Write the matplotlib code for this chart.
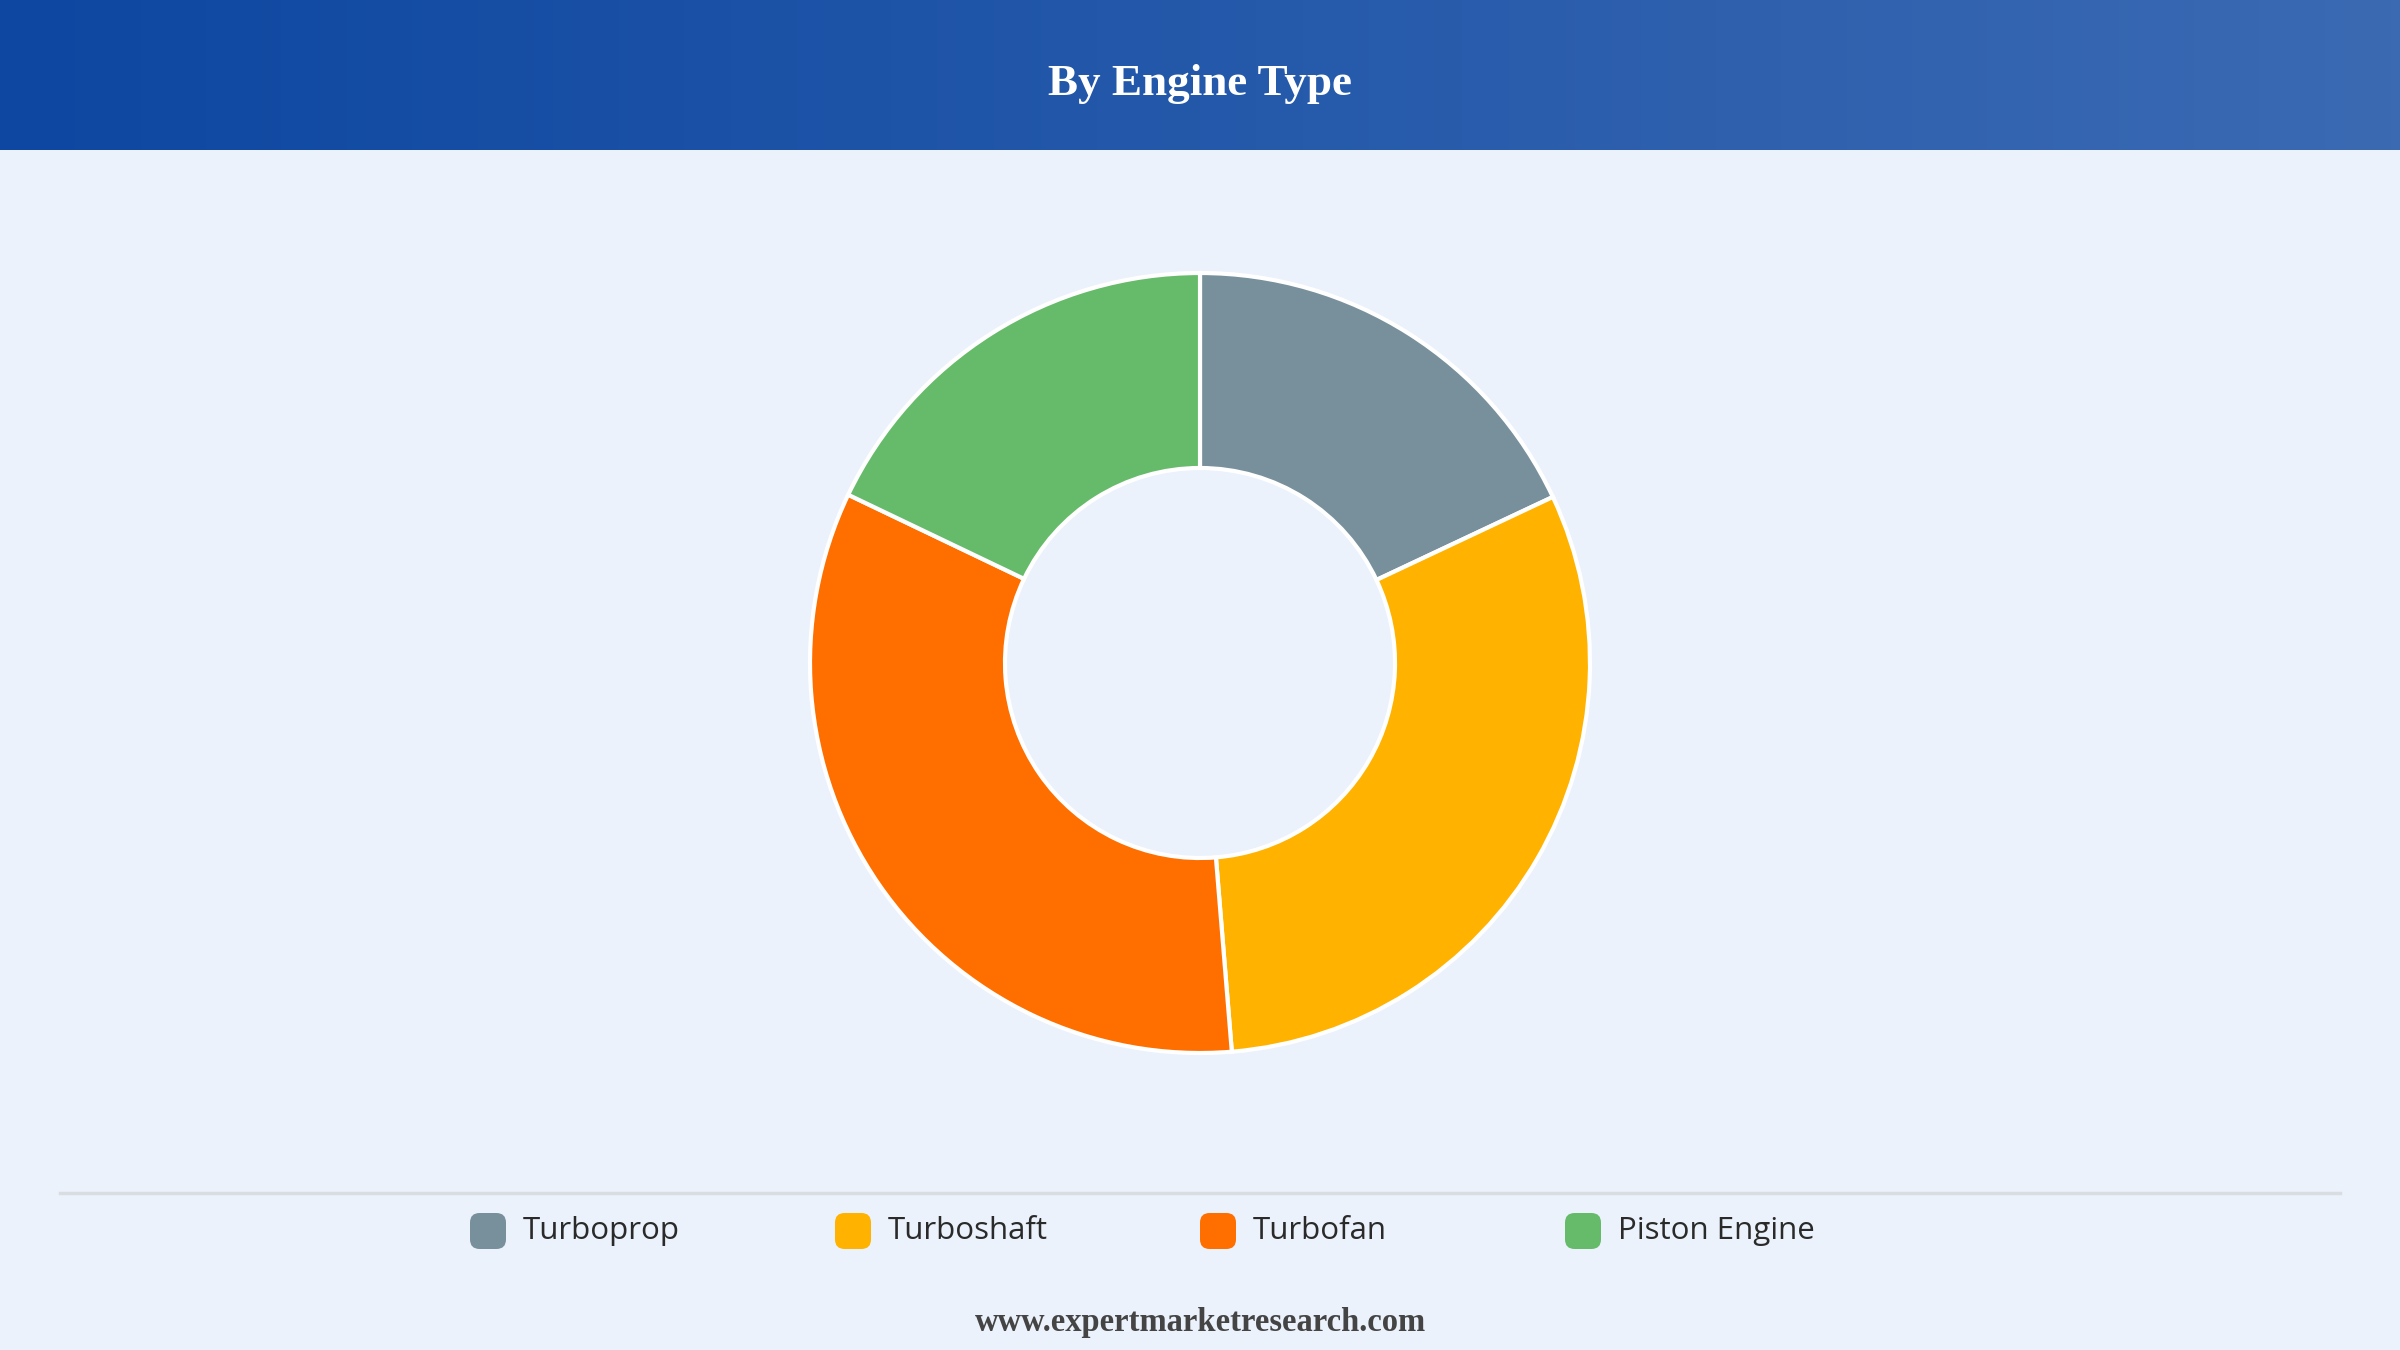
import numpy as np
import matplotlib
matplotlib.use("Agg")
import matplotlib.pyplot as plt
from matplotlib.patches import FancyBboxPatch

# data
labels = ["Turboprop", "Turboshaft", "Turbofan", "Piston Engine"]
shares = [18.0, 30.7, 33.4, 17.9]
colors = ["#78909C", "#FFB300", "#FF6F00", "#66BB6A"]

title = "By Engine Type"
source = "www.expertmarketresearch.com"

W, H = 2400, 1350
bg = "#EBF2FB"

fig = plt.figure(figsize=(24, 13.5), dpi=100)
fig.patch.set_facecolor(bg)

# header band with horizontal gradient
hdr = fig.add_axes([0, 1 - 150 / H, 1, 150 / H])
grad = np.linspace(0, 1, 256).reshape(1, -1)
cmap = matplotlib.colors.LinearSegmentedColormap.from_list("hdr", ["#0D47A1", "#3B6AB3"])
hdr.imshow(grad, aspect="auto", cmap=cmap, extent=[0, 1, 0, 1])
hdr.set_axis_off()
hdr.text(0.5, 0.44, title, ha="center", va="center", color="white",
         fontsize=32.5, fontweight="bold", family="Liberation Serif")

# donut
R = 390
cx, cy = 1200, 663
ax = fig.add_axes([(cx - R) / W, (H - cy - R) / H, 2 * R / W, 2 * R / H])
ax.set_facecolor("none")
ax.pie(shares, colors=colors, startangle=90, counterclock=False, radius=1,
       wedgeprops=dict(width=0.5, edgecolor="white", linewidth=3))
ax.set_xlim(-1.0, 1.0)
ax.set_ylim(-1.0, 1.0)
ax.set_aspect("equal")
ax.set_axis_off()

# separator line
fig.add_artist(plt.Line2D([60 / W, 2340 / W], [1 - 1193 / H, 1 - 1193 / H],
                          color="#D9DDE2", linewidth=2.5))

# legend
leg_x = [470, 835, 1200, 1565]
ly = 1 - 1231 / H
sq = 36
for x, lab, c in zip(leg_x, labels, colors):
    box = FancyBboxPatch((x / W, ly - sq / 2 / H), sq / W, sq / H,
                         boxstyle="round,pad=0,rounding_size=0.004",
                         transform=fig.transFigure, facecolor=c, edgecolor="none",
                         mutation_aspect=W / H)
    fig.add_artist(box)
    fig.text((x + sq + 17) / W, ly, lab, ha="left", va="center",
             fontsize=22.5, color="#2a2a2a", family="Open Sans")

fig.text(0.5, 1 - 1322 / H, source, ha="center", va="center", fontsize=23.5,
         fontweight="bold", color="#444444", family="Liberation Serif")

fig.savefig("out.png", dpi=100, facecolor=bg)
